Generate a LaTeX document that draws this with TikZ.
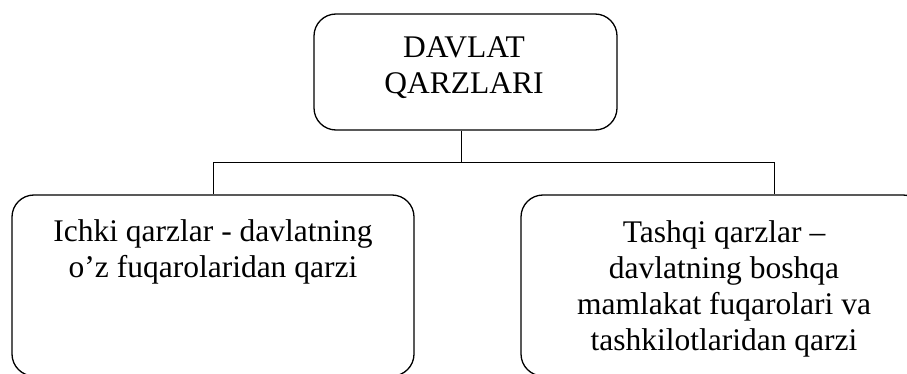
\documentclass[tikz,border=0pt]{standalone}
\usepackage{fontspec}
\setmainfont{Liberation Serif}
\begin{document}
\begin{tikzpicture}[x=1pt,y=-1pt,
  boxst/.style={draw, line width=1.3pt, rounded corners=22pt, inner sep=0pt},
  txt/.style={anchor=north, inner sep=0pt, align=center, font=\fontsize{31.5}{36}\selectfont},
  conn/.style={draw, line width=1pt}]
\useasboundingbox (0,0) rectangle (907,374);
\node[boxst, minimum width=303pt, minimum height=116pt] (top) at (465.5,72) {};
\node[boxst, minimum width=402pt, minimum height=181pt] (left) at (213,285.5) {};
\node[boxst, minimum width=404pt, minimum height=181pt] (right) at (723,285.5) {};
\node[txt] (toptxt) at (464,32.5) {\strut DAVLAT\\QARZLARI};
\node[txt] (lefttxt) at (213,216.5) {\strut Ichki qarzlar - davlatning\\o’z fuqarolaridan qarzi};
\node[txt] (righttxt) at (724,217) {\strut Tashqi qarzlar –\\davlatning boshqa\\mamlakat fuqarolari va\\tashkilotlaridan qarzi};
\coordinate (j) at (461,163);
\coordinate (hl) at (213,163);
\coordinate (hr) at (774,163);
\draw[conn] (j |- top.south) -- (j);
\draw[conn] (left.north) -- (hl) -- (hr) -- (hr |- right.north);
\end{tikzpicture}
\end{document}
